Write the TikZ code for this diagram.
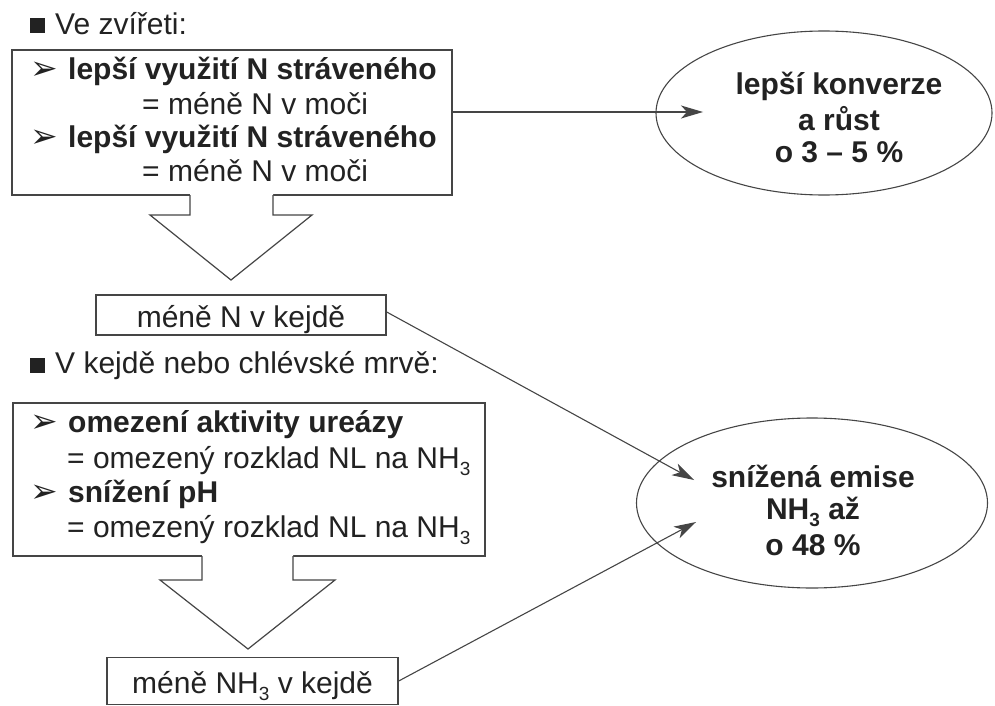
\documentclass[tikz,border=0pt]{standalone}
\usepackage{fontspec}
\setmainfont{Liberation Sans}
\newfontfamily\djv{DejaVu Sans}
\usetikzlibrary{shapes.geometric,arrows.meta}
\definecolor{ln}{HTML}{454545}
\definecolor{tx}{HTML}{222222}
\newcommand\lsub[1]{\smash{\raisebox{-0.45ex}{\fontsize{19}{19}\selectfont #1}}}
\newcommand\arr{{\djv\fontsize{33}{33}\selectfont ➢}}
\begin{document}
\begin{tikzpicture}[x=1pt,y=-1pt,
  font=\fontsize{30}{34}\selectfont,
  box/.style={draw=ln, line width=1.4pt, fill=white, inner sep=0pt},
  txt/.style={inner sep=0pt, anchor=base west, text=tx},
  ctxt/.style={inner sep=0pt, anchor=base, text=tx},
  oval/.style={draw=ln, line width=1.1pt, ellipse, inner sep=0pt},
  conn/.style={draw=ln, line width=1.1pt, -{Stealth[length=22pt,width=13pt,inset=6pt]}},
  hollow/.style={draw=ln, line width=1.2pt, line join=miter},
  bullet/.style={fill=tx, minimum size=15pt, inner sep=0pt}]
\useasboundingbox (0,0) rectangle (995,706);

% heading 1
\node[bullet] (bl1) at (37.5,25.5) {};
\node[txt] (h1) at (55,35) {Ve zvířeti:};

% box 1
\node[box, minimum width=440pt, minimum height=145pt] (b1) at (232,122.5) {};
\node[txt] (a11) at (30,80) {\arr};
\node[txt] (t11) at (68,80) {\textbf{lepší využití N stráveného}};
\node[txt] (t12) at (142,114) {= méně N v moči};
\node[txt] (a13) at (30,147) {\arr};
\node[txt] (t13) at (68,147) {\textbf{lepší využití N stráveného}};
\node[txt] (t14) at (142,181) {= méně N v moči};

% hollow arrow 1
\fill[white] (190,193) -- (190,215) -- (150,215) -- (231,280) -- (312,215) -- (273,215) -- (273,193) -- cycle;
\draw[hollow] (190,195) -- (190,215) -- (150,215) -- (231,280) -- (312,215) -- (273,215) -- (273,195);

% box méně N v kejdě
\node[box, minimum width=290pt, minimum height=40pt] (k1) at (241,315) {};
\node[ctxt] (k1t) at (241,327) {méně N v kejdě};

% ellipse 1
\node[oval, minimum width=336pt, minimum height=164pt] (e1) at (824,113) {};
\node[ctxt] (e1a) at (839,95) {\textbf{lepší konverze}};
\node[ctxt] (e1b) at (839,130) {\textbf{a růst}};
\node[ctxt] (e1c) at (839,162) {\textbf{o 3 – 5 \%}};
\coordinate (t1) at (703,112);
\draw[conn] (b1.east |- t1) -- (t1);

% heading 2
\node[bullet] (bl2) at (37.5,365) {};
\node[txt] (h2) at (55,373) {V kejdě nebo chlévské mrvě:};

% box 2
\node[box, minimum width=472pt, minimum height=153pt] (b2) at (249,479.5) {};
\node[txt] (a21) at (30,432) {\arr};
\node[txt] (t21) at (68,432) {\textbf{omezení aktivity ureázy}};
\node[txt] (t22) at (67,468) {= omezený rozklad NL na NH\lsub{3}};
\node[txt] (a23) at (30,502) {\arr};
\node[txt] (t23) at (68,502) {\textbf{snížení pH}};
\node[txt] (t24) at (67,537) {= omezený rozklad NL na NH\lsub{3}};

% hollow arrow 2
\fill[white] (202,554) -- (202,580) -- (160,580) -- (248,649) -- (335,580) -- (293,580) -- (293,554) -- cycle;
\draw[hollow] (202,556) -- (202,580) -- (160,580) -- (248,649) -- (335,580) -- (293,580) -- (293,556);

% box méně NH3 v kejdě
\node[box, minimum width=291pt, minimum height=47pt] (k2) at (252.5,681) {};
\node[ctxt] (k2t) at (252.5,693) {méně NH\lsub{3} v kejdě};

% ellipse 2
\node[oval, minimum width=351pt, minimum height=170pt] (e2) at (812,503) {};
\node[ctxt] (e2a) at (813,487) {\textbf{snížená emise}};
\node[ctxt] (e2b) at (813,519) {\textbf{NH\lsub{3} až}};
\node[ctxt] (e2c) at (813,555) {\textbf{o 48 \%}};

\coordinate (t2) at (694,480);
\coordinate (t3) at (696,522);
\draw[conn] (k1.east |- 0,312) -- (t2);
\draw[conn] (k2.east) -- (t3);
\end{tikzpicture}
\end{document}
